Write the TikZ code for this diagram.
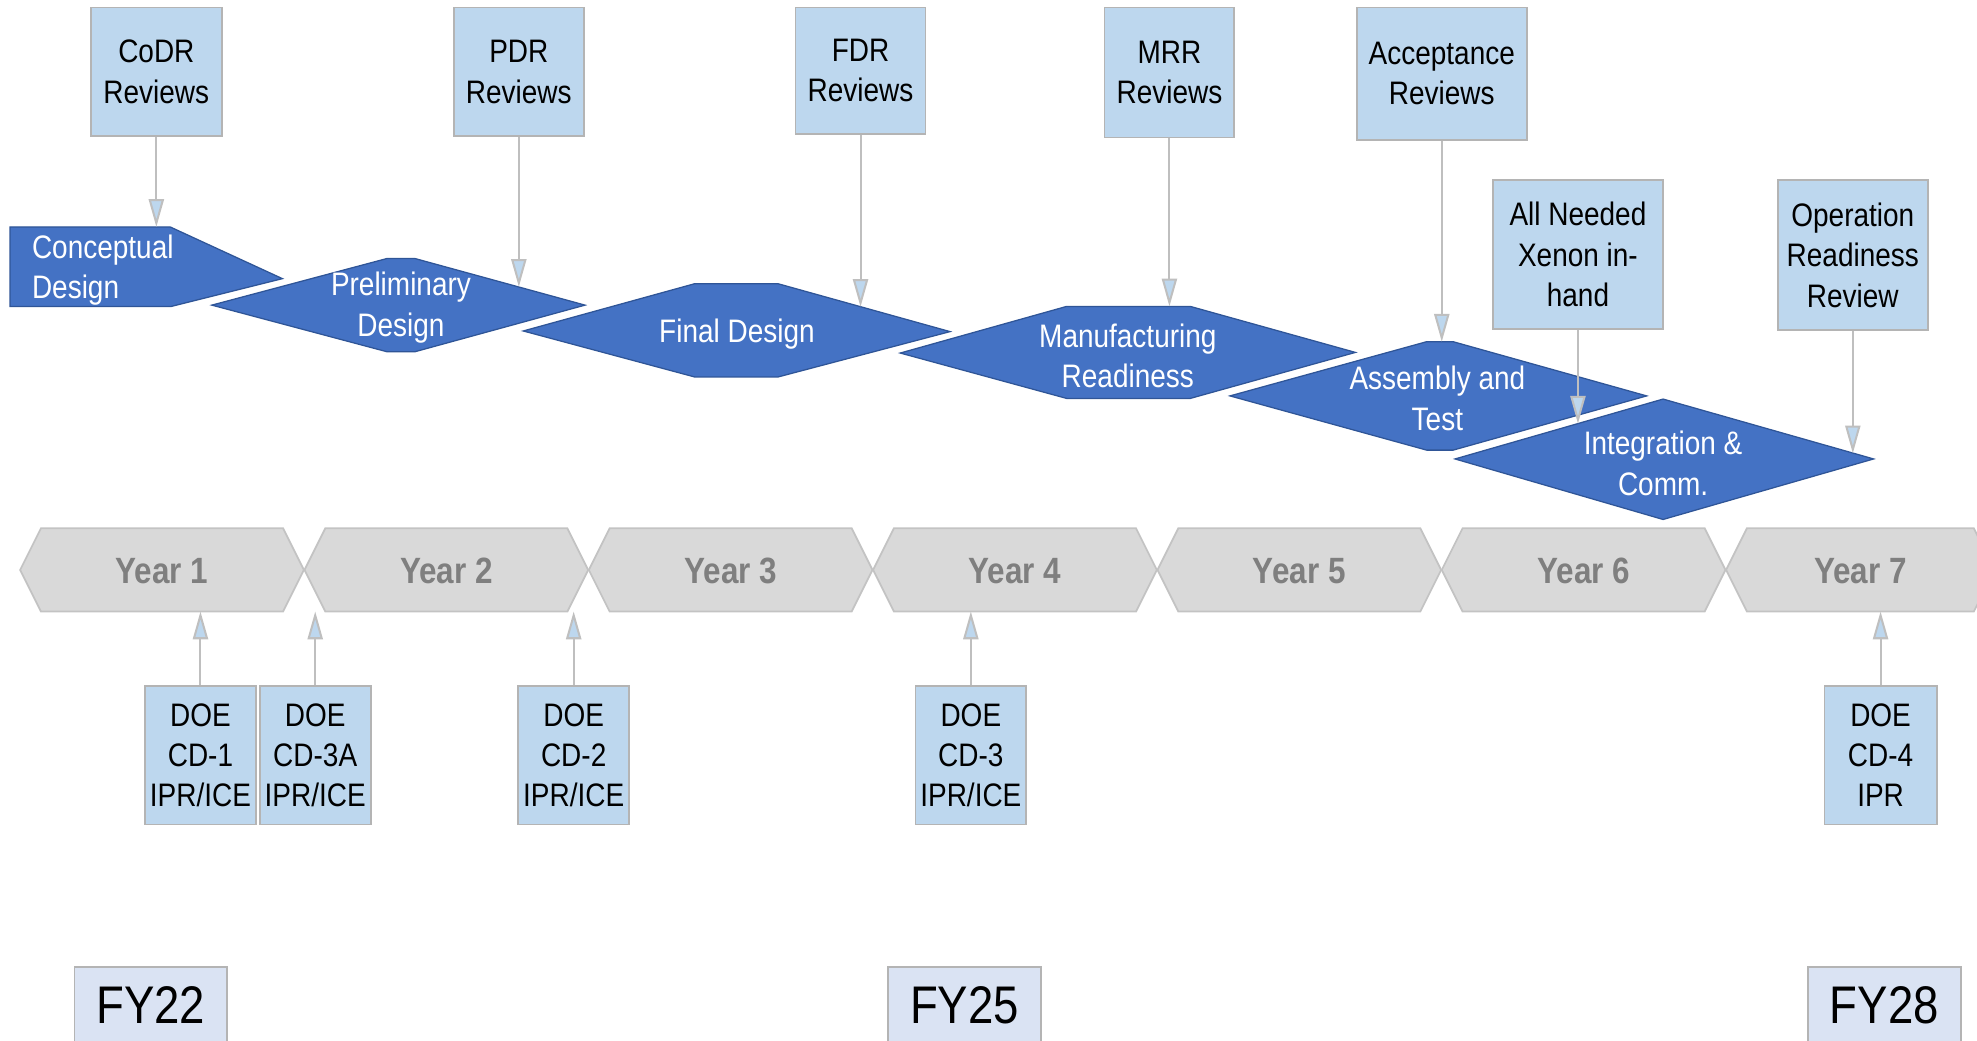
\documentclass[tikz,border=0pt]{standalone}
\usepackage{fontspec}
\setmainfont{Liberation Sans}[FakeStretch=0.86]
\usetikzlibrary{arrows.meta}

\definecolor{boxblue}{HTML}{BDD7EE}
\definecolor{boxline}{HTML}{B4B4B4}
\definecolor{phaseblue}{HTML}{4472C4}
\definecolor{phaseline}{HTML}{2F5597}
\definecolor{yearfill}{HTML}{D9D9D9}
\definecolor{yearline}{HTML}{C3C3C3}
\definecolor{yeartext}{HTML}{7F7F7F}
\definecolor{fyfill}{HTML}{DAE3F3}
\definecolor{linkgray}{HTML}{BFBFBF}

\tikzset{
  txt/.style={font=\fontsize{12.9}{16}\selectfont, align=center, inner sep=0pt},
  revbox/.style={txt, draw=boxline, fill=boxblue, line width=0.7pt},
  doebox/.style={revbox, minimum width=44pt, minimum height=55pt},
  fybox/.style={draw=boxline, fill=fyfill, line width=0.7pt, inner sep=0pt,
    font=\fontsize{21}{25}\selectfont, minimum width=60.5pt, minimum height=30pt},
  phase/.style={fill=phaseblue, draw=phaseline, line width=0.5pt, line join=miter},
  phasetxt/.style={txt, text=white},
  yearhex/.style={fill=yearfill, draw=yearline, line width=0.7pt},
  yearlbl/.style={font=\fontsize{14.5}{17}\selectfont\bfseries, text=yeartext, inner sep=0pt},
  arr/.style={draw=linkgray, line width=0.8pt,
    -{Triangle[width=6pt, length=11pt, fill=boxblue]}},
}

\begin{document}
\begin{tikzpicture}[x=0.5pt, y=-0.5pt]
\useasboundingbox (0,0) rectangle (1568,825);
\clip (0,0) rectangle (1568,825);

% ---- phases ----
\draw[phase] (8,180) -- (135,180) -- (224,221) -- (136,243) -- (8,243) -- cycle;
\draw[phase] (168,242) -- (307,205) -- (329,205) -- (464,242) -- (329,279) -- (307,279) -- cycle;
\draw[phase] (415,262.5) -- (551,225) -- (617,225) -- (753.5,263) -- (617,299) -- (551,299) -- cycle;
\draw[phase] (714,280) -- (846,243) -- (944,243) -- (1075,279.5) -- (944,316) -- (846,316) -- cycle;
\draw[phase] (975.5,314) -- (1131.5,271) -- (1152.5,271) -- (1306,314) -- (1152.5,357) -- (1131.5,357) -- cycle;
\draw[phase] (1154,364) -- (1319,316.5) -- (1486,364) -- (1319,412) -- cycle;

\node[phasetxt, anchor=west, align=left] (conc) at (25,214) {Conceptual\\Design};
\node[phasetxt] (prelim) at (318,244) {Preliminary\\Design};
\node[phasetxt] (final) at (584.5,265) {Final Design};
\node[phasetxt] (manuf) at (894.5,282) {Manufacturing\\Readiness};
\node[phasetxt] (asm) at (1140,316) {Assembly and\\Test};
\node[phasetxt] (integ) at (1319,367.5) {Integration \&\\Comm.};

% points where the review arrows meet the phases
\coordinate (concTop) at (124,180);
\coordinate (prelimEdge) at (411.5,227.5);
\coordinate (finalEdge) at (682.5,243.4);
\coordinate (manufTop) at (927.5,243);
\coordinate (asmTop) at (1143.5,271);
\coordinate (integEdgeL) at (1251.5,336);
\coordinate (integEdgeR) at (1469.5,359.5);

% ---- review boxes ----
\node[revbox, minimum width=52pt, minimum height=51pt] (codr) at (124,57) {CoDR\\Reviews};
\node[revbox, minimum width=51.5pt, minimum height=51pt] (pdr) at (411.5,57) {PDR\\Reviews};
\node[revbox, minimum width=51.5pt, minimum height=50pt] (fdr) at (682.5,56) {FDR\\Reviews};
\node[revbox, minimum width=51.5pt, minimum height=51.5pt] (mrr) at (927.5,57.5) {MRR\\Reviews};
\node[revbox, minimum width=67.5pt, minimum height=52.5pt] (acc) at (1143.5,58.5) {Acceptance\\Reviews};
\node[revbox, minimum width=67.5pt, minimum height=59pt] (xen) at (1251.5,202) {All Needed\\Xenon in-\\hand};
\node[revbox, minimum width=59.5pt, minimum height=59.5pt] (orr) at (1469.5,202.5) {Operation\\Readiness\\Review};

\draw[arr] (codr) -- (concTop);
\draw[arr] (pdr) -- (prelimEdge);
\draw[arr] (fdr) -- (finalEdge);
\draw[arr] (mrr) -- (manufTop);
\draw[arr] (acc) -- (asmTop);
\draw[arr] (xen) -- (integEdgeL);
\draw[arr] (orr) -- (integEdgeR);

% ---- year timeline ----
\foreach \k in {1,...,6} {
  \pgfmathsetmacro\L{16+225.5*(\k-1)}
  \pgfmathsetmacro\R{\L+225}
  \draw[yearhex] (\L,452) -- (\L+16.5,419) -- (\R-16.5,419) -- (\R,452) -- (\R-16.5,485) -- (\L+16.5,485) -- cycle;
  \node[yearlbl] (year\k) at ({(\L+\R)/2},453) {Year \k};
}
\draw[yearhex] (1369,452) -- (1385.5,419) -- (1565.5,419) -- (1582,452) -- (1565.5,485) -- (1385.5,485) -- cycle;
\node[yearlbl] (year7) at (1475.5,453) {Year 7};
\coordinate (yearBase) at (0,485);

% ---- DOE decision boxes ----
\node[doebox] (cd1) at (159,599) {DOE\\CD-1\\IPR/ICE};
\node[doebox] (cd3a) at (250,599) {DOE\\CD-3A\\IPR/ICE};
\node[doebox] (cd2) at (455,599) {DOE\\CD-2\\IPR/ICE};
\node[doebox] (cd3) at (770,599) {DOE\\CD-3\\IPR/ICE};
\node[doebox, minimum width=44.5pt] (cd4) at (1491.5,599) {DOE\\CD-4\\IPR};

\foreach \n in {cd1,cd3a,cd2,cd3,cd4}
  \draw[arr] (\n) -- (\n.north |- yearBase);

% ---- fiscal years ----
\node[fybox] (fy22) at (119.5,797) {FY22};
\node[fybox] (fy25) at (765,797) {FY25};
\node[fybox] (fy28) at (1494.5,797) {FY28};
\end{tikzpicture}
\end{document}
